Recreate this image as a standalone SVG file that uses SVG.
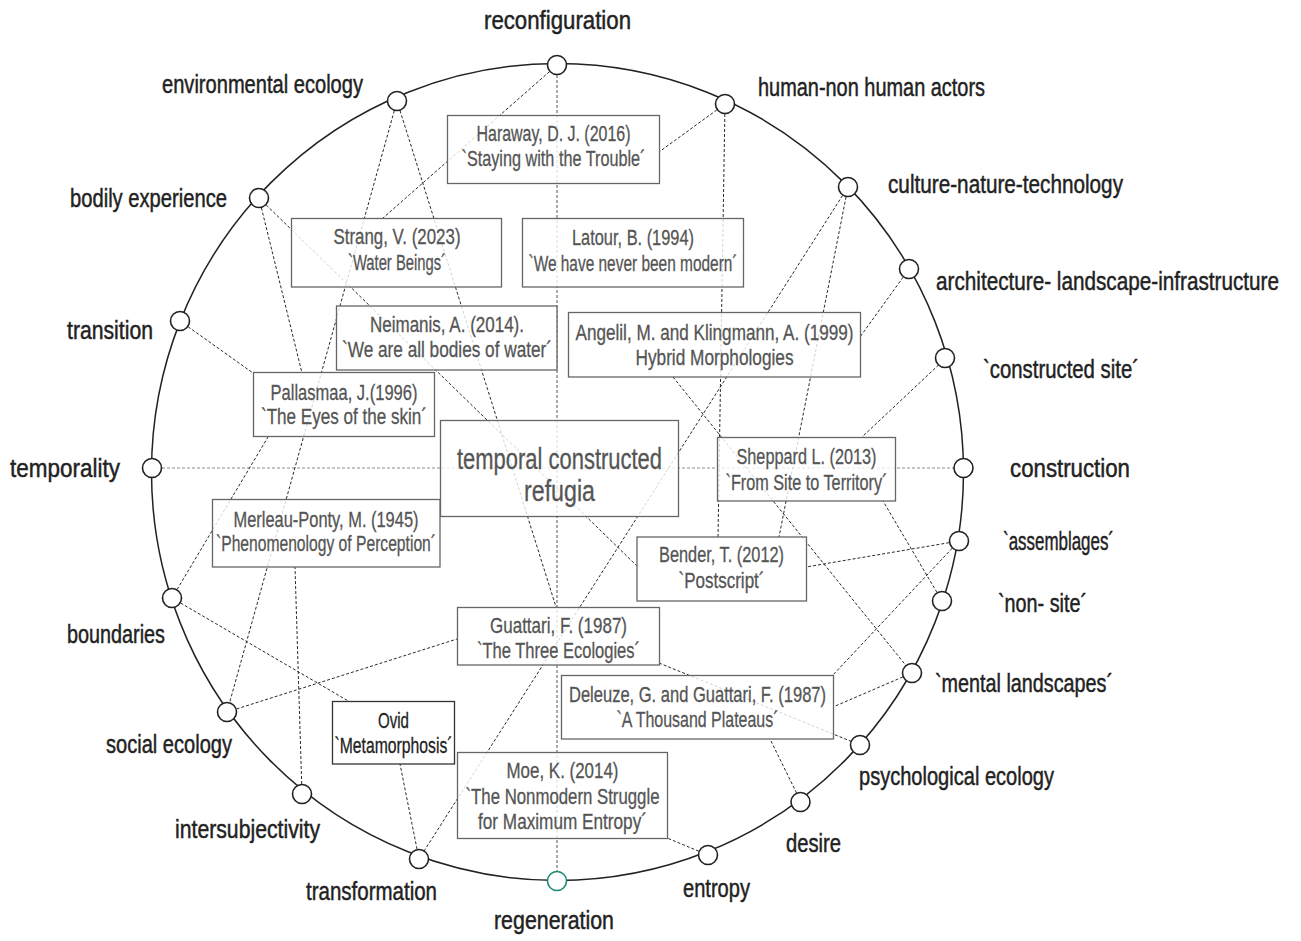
<svg xmlns="http://www.w3.org/2000/svg" width="1301" height="941" viewBox="0 0 1301 941">
  <style>
    .ring { fill: none; stroke: #222; stroke-width: 1.5; }
    .link { fill: none; stroke: #2a2a2a; stroke-width: 1; stroke-dasharray: 3 2; }
    .axis-v { fill: none; stroke: #555; stroke-width: 1; stroke-dasharray: 3 2; }
    .axis-h { fill: none; stroke: #8a8a8a; stroke-width: 1; stroke-dasharray: 3 2; }
    .node circle { fill: #fff; stroke: #222; stroke-width: 1.6; }
    .node.accent circle { stroke: #1b8a78; }
    .label { font-family: "Liberation Sans Narrow", "Liberation Sans", Arial, sans-serif; font-size: 25px; fill: #222; stroke: #222; stroke-width: 0.45; }
    .box rect { fill: #fff; fill-opacity: 0.8; stroke: #666; stroke-width: 1.3; }
    .box text { font-family: "Liberation Sans Narrow", "Liberation Sans", Arial, sans-serif; font-size: 22px; fill: #555; stroke: #555; stroke-width: 0.3; text-anchor: middle; }
    .box.dark rect { stroke: #333; }
    .box.dark text { fill: #222; stroke: #222; }
    .box.core text { font-size: 29px; }
  </style>

  <!-- outer ring -->
  <ellipse class="ring" cx="557.5" cy="472" rx="406" ry="408.5"/>

  <!-- connectors -->
  <g id="connectors">
    <line class="axis-v" x1="557" y1="65" x2="557" y2="881"/>
    <line class="axis-h" x1="152" y1="468" x2="963" y2="468"/>
    <line class="link" x1="557" y1="65" x2="383" y2="218"/>
    <line class="link" x1="397" y1="101" x2="227" y2="712"/>
    <line class="link" x1="397" y1="101" x2="556" y2="607"/>
    <line class="link" x1="259" y1="198" x2="302" y2="373"/>
    <line class="link" x1="259" y1="198" x2="637" y2="566"/>
    <line class="link" x1="180" y1="321" x2="253" y2="373"/>
    <line class="link" x1="172" y1="598" x2="268" y2="437"/>
    <line class="link" x1="172" y1="598" x2="350" y2="702"/>
    <line class="link" x1="227" y1="712" x2="457" y2="639"/>
    <line class="link" x1="302" y1="794" x2="295" y2="567"/>
    <line class="link" x1="419" y1="859" x2="400" y2="764"/>
    <line class="link" x1="848" y1="187" x2="419" y2="859"/>
    <line class="link" x1="848" y1="187" x2="779" y2="537"/>
    <line class="link" x1="725" y1="104" x2="659" y2="152"/>
    <line class="link" x1="725" y1="104" x2="718" y2="537"/>
    <line class="link" x1="909" y1="269" x2="860" y2="337"/>
    <line class="link" x1="946" y1="358" x2="862" y2="437"/>
    <line class="link" x1="673" y1="377" x2="912" y2="673"/>
    <line class="link" x1="942" y1="601" x2="883" y2="501"/>
    <line class="link" x1="959" y1="541" x2="806" y2="567"/>
    <line class="link" x1="959" y1="541" x2="832" y2="676"/>
    <line class="link" x1="912" y1="673" x2="833" y2="707"/>
    <line class="link" x1="659" y1="663" x2="860" y2="745"/>
    <line class="link" x1="801" y1="802" x2="770" y2="739"/>
    <line class="link" x1="708" y1="855" x2="667" y2="838"/>
  </g>

  <!-- reference boxes -->
  <g id="haraway" class="box">
    <rect x="447.5" y="115.5" width="212" height="68"/>
    <text x="553.5" y="141" textLength="154" lengthAdjust="spacingAndGlyphs">Haraway, D. J. (2016)</text>
    <text x="553.5" y="166" textLength="184" lengthAdjust="spacingAndGlyphs">`Staying with the Trouble´</text>
  </g>
  <g id="strang" class="box">
    <rect x="291.5" y="218.5" width="210" height="68.5"/>
    <text x="397" y="244" textLength="127" lengthAdjust="spacingAndGlyphs">Strang, V. (2023)</text>
    <text x="397" y="270" textLength="98" lengthAdjust="spacingAndGlyphs">`Water Beings´</text>
  </g>
  <g id="latour" class="box">
    <rect x="522.5" y="218.5" width="221" height="68.5"/>
    <text x="633" y="245" textLength="122" lengthAdjust="spacingAndGlyphs">Latour, B. (1994)</text>
    <text x="633" y="271" textLength="209" lengthAdjust="spacingAndGlyphs">`We have never been modern´</text>
  </g>
  <g id="neimanis" class="box">
    <rect x="336.5" y="306" width="220.5" height="64"/>
    <text x="447" y="331.5" textLength="154" lengthAdjust="spacingAndGlyphs">Neimanis, A. (2014).</text>
    <text x="447" y="356.5" textLength="210" lengthAdjust="spacingAndGlyphs">`We are all bodies of water´</text>
  </g>
  <g id="angelil" class="box">
    <rect x="568.5" y="312.5" width="292" height="64.5"/>
    <text x="714.5" y="340" textLength="278" lengthAdjust="spacingAndGlyphs">Angelil, M. and Klingmann, A. (1999)</text>
    <text x="714.5" y="365" textLength="158" lengthAdjust="spacingAndGlyphs">Hybrid Morphologies</text>
  </g>
  <g id="pallasmaa" class="box">
    <rect x="253.5" y="372.5" width="181" height="64"/>
    <text x="344" y="400" textLength="147" lengthAdjust="spacingAndGlyphs">Pallasmaa, J.(1996)</text>
    <text x="344" y="423.5" textLength="166" lengthAdjust="spacingAndGlyphs">`The Eyes of the skin´</text>
  </g>
  <g id="refugia" class="box core">
    <rect x="440.5" y="420.5" width="238" height="96"/>
    <text x="559.5" y="468.5" textLength="205" lengthAdjust="spacingAndGlyphs">temporal constructed</text>
    <text x="559.5" y="501" textLength="71" lengthAdjust="spacingAndGlyphs">refugia</text>
  </g>
  <g id="sheppard" class="box">
    <rect x="717.5" y="437.5" width="178" height="63.5"/>
    <text x="806.5" y="464" textLength="140" lengthAdjust="spacingAndGlyphs">Sheppard L. (2013)</text>
    <text x="806.5" y="489.5" textLength="162" lengthAdjust="spacingAndGlyphs">`From Site to Territory´</text>
  </g>
  <g id="merleau-ponty" class="box">
    <rect x="212.5" y="499.5" width="227.5" height="67.5"/>
    <text x="326" y="526.5" textLength="185" lengthAdjust="spacingAndGlyphs">Merleau-Ponty, M. (1945)</text>
    <text x="326" y="551" textLength="220" lengthAdjust="spacingAndGlyphs">`Phenomenology of Perception´</text>
  </g>
  <g id="bender" class="box">
    <rect x="637" y="537" width="169.5" height="64"/>
    <text x="721.5" y="562" textLength="125" lengthAdjust="spacingAndGlyphs">Bender, T. (2012)</text>
    <text x="721.5" y="588" textLength="86" lengthAdjust="spacingAndGlyphs">`Postscript´</text>
  </g>
  <g id="guattari" class="box">
    <rect x="457.5" y="607.5" width="202" height="57.5"/>
    <text x="558.5" y="633" textLength="137" lengthAdjust="spacingAndGlyphs">Guattari, F. (1987)</text>
    <text x="558.5" y="658" textLength="163" lengthAdjust="spacingAndGlyphs">`The Three Ecologies´</text>
  </g>
  <g id="deleuze-guattari" class="box">
    <rect x="561.5" y="675.5" width="272" height="63.5"/>
    <text x="697.5" y="701.5" textLength="257" lengthAdjust="spacingAndGlyphs">Deleuze, G. and Guattari, F. (1987)</text>
    <text x="697.5" y="726.5" textLength="162" lengthAdjust="spacingAndGlyphs">`A Thousand Plateaus´</text>
  </g>
  <g id="ovid" class="box dark">
    <rect x="332.5" y="701.5" width="122" height="62.5"/>
    <text x="393.5" y="728" textLength="31" lengthAdjust="spacingAndGlyphs">Ovid</text>
    <text x="393.5" y="752.5" textLength="118" lengthAdjust="spacingAndGlyphs">`Metamorphosis´</text>
  </g>
  <g id="moe" class="box">
    <rect x="457.5" y="752.5" width="210" height="86"/>
    <text x="562.5" y="778" textLength="112" lengthAdjust="spacingAndGlyphs">Moe, K. (2014)</text>
    <text x="562.5" y="804" textLength="194" lengthAdjust="spacingAndGlyphs">`The Nonmodern Struggle</text>
    <text x="562.5" y="829" textLength="169" lengthAdjust="spacingAndGlyphs">for Maximum Entropy´</text>
  </g>

  <!-- ring nodes with their labels -->
  <g id="reconfiguration" class="node"><circle cx="557" cy="65" r="9.5"/><text class="label" x="484" y="29" textLength="147" lengthAdjust="spacingAndGlyphs">reconfiguration</text></g>
  <g id="environmental-ecology" class="node"><circle cx="397" cy="101" r="9.5"/><text class="label" x="162" y="93" textLength="201" lengthAdjust="spacingAndGlyphs">environmental ecology</text></g>
  <g id="human-non-human-actors" class="node"><circle cx="725" cy="104" r="9.5"/><text class="label" x="758" y="96" textLength="227" lengthAdjust="spacingAndGlyphs">human-non human actors</text></g>
  <g id="bodily-experience" class="node"><circle cx="259" cy="198" r="9.5"/><text class="label" x="70" y="207" textLength="157" lengthAdjust="spacingAndGlyphs">bodily experience</text></g>
  <g id="culture-nature-technology" class="node"><circle cx="848" cy="187" r="9.5"/><text class="label" x="888" y="193" textLength="235" lengthAdjust="spacingAndGlyphs">culture-nature-technology</text></g>
  <g id="architecture-landscape-infrastructure" class="node"><circle cx="909" cy="269" r="9.5"/><text class="label" x="1279" y="290" text-anchor="end" font-size="23" textLength="343" lengthAdjust="spacingAndGlyphs">architecture- landscape-infrastructure</text></g>
  <g id="transition" class="node"><circle cx="180" cy="321" r="9.5"/><text class="label" x="67" y="339" textLength="86" lengthAdjust="spacingAndGlyphs">transition</text></g>
  <g id="constructed-site" class="node"><circle cx="945" cy="358" r="9.5"/><text class="label" x="983" y="378" textLength="156" lengthAdjust="spacingAndGlyphs">`constructed site´</text></g>
  <g id="temporality" class="node"><circle cx="152" cy="468" r="9.5"/><text class="label" x="10" y="477" textLength="110" lengthAdjust="spacingAndGlyphs">temporality</text></g>
  <g id="construction" class="node"><circle cx="963.5" cy="468" r="9.5"/><text class="label" x="1010" y="477" textLength="120" lengthAdjust="spacingAndGlyphs">construction</text></g>
  <g id="assemblages" class="node"><circle cx="959" cy="541" r="9.5"/><text class="label" x="1003" y="550" textLength="111" lengthAdjust="spacingAndGlyphs">`assemblages´</text></g>
  <g id="non-site" class="node"><circle cx="942" cy="601" r="9.5"/><text class="label" x="998" y="612" textLength="89" lengthAdjust="spacingAndGlyphs">`non- site´</text></g>
  <g id="boundaries" class="node"><circle cx="172" cy="598" r="9.5"/><text class="label" x="67" y="643" textLength="98" lengthAdjust="spacingAndGlyphs">boundaries</text></g>
  <g id="mental-landscapes" class="node"><circle cx="912" cy="673" r="9.5"/><text class="label" x="935" y="692" textLength="178" lengthAdjust="spacingAndGlyphs">`mental landscapes´</text></g>
  <g id="social-ecology" class="node"><circle cx="227" cy="712" r="9.5"/><text class="label" x="106" y="753" textLength="126" lengthAdjust="spacingAndGlyphs">social ecology</text></g>
  <g id="psychological-ecology" class="node"><circle cx="860" cy="745" r="9.5"/><text class="label" x="859" y="785" textLength="195" lengthAdjust="spacingAndGlyphs">psychological ecology</text></g>
  <g id="intersubjectivity" class="node"><circle cx="302" cy="794" r="9.5"/><text class="label" x="175" y="838" textLength="145" lengthAdjust="spacingAndGlyphs">intersubjectivity</text></g>
  <g id="desire" class="node"><circle cx="800.5" cy="802" r="9.5"/><text class="label" x="786" y="852" textLength="55" lengthAdjust="spacingAndGlyphs">desire</text></g>
  <g id="transformation" class="node"><circle cx="419" cy="859" r="9.5"/><text class="label" x="306" y="900" textLength="131" lengthAdjust="spacingAndGlyphs">transformation</text></g>
  <g id="entropy" class="node"><circle cx="708" cy="855" r="9.5"/><text class="label" x="683" y="897" textLength="67" lengthAdjust="spacingAndGlyphs">entropy</text></g>
  <g id="regeneration" class="node accent"><circle cx="557" cy="881" r="9.5"/><text class="label" x="494" y="929" textLength="120" lengthAdjust="spacingAndGlyphs">regeneration</text></g>
</svg>
